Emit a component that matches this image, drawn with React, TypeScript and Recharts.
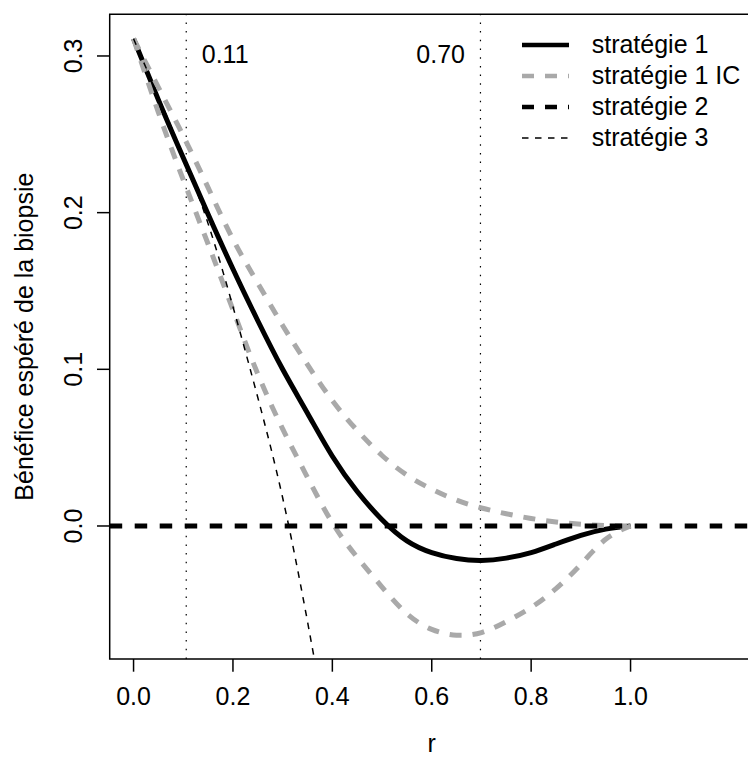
import { LineChart, Line, XAxis, YAxis, ReferenceLine, ReferenceArea, Legend, Label } from 'recharts';

const rValues = [0, 0.05, 0.1, 0.15, 0.2, 0.25, 0.3, 0.35, 0.4, 0.45, 0.5, 0.55, 0.6, 0.65, 0.7, 0.75, 0.8, 0.85, 0.9, 0.95, 1.0];
const strategy1 = [0.311, 0.272, 0.235, 0.199, 0.164, 0.131, 0.1, 0.072, 0.0445, 0.022, 0.004, -0.0095, -0.017, -0.0208, -0.022, -0.0205, -0.017, -0.0115, -0.006, -0.002, 0];
const strategy1Upper = [0.311, 0.28, 0.249, 0.216, 0.183, 0.155, 0.128, 0.103, 0.08, 0.061, 0.045, 0.0325, 0.0235, 0.0165, 0.0115, 0.0078, 0.0048, 0.0026, 0.0011, 0.0003, 0];
const strategy1Lower = [0.311, 0.264, 0.221, 0.18, 0.138, 0.097, 0.062, 0.031, 0.002, -0.02, -0.039, -0.056, -0.066, -0.0697, -0.068, -0.061, -0.052, -0.04, -0.0245, -0.0085, 0];
const strategy3 = [0.311, 0.274, 0.236, 0.193, 0.14, 0.082, 0.018, -0.061, -0.15, null, null, null, null, null, null, null, null, null, null, null, null];
const strategy2Level = 0;

const thresholds = [0.106, 0.698];
const thresholdLabels = ['0.11', '0.70'];
const xTicks = [0, 0.2, 0.4, 0.6, 0.8, 1.0];
const yTicks = [0, 0.1, 0.2, 0.3];
const seriesNames = ['stratégie 1', 'stratégie 1 IC', 'stratégie 2', 'stratégie 3'];

const data = rValues.map((r, i) => ({
  r,
  s1: strategy1[i],
  hi: strategy1Upper[i],
  lo: strategy1Lower[i],
  s3: strategy3[i],
}));

const FONT = '"Liberation Sans", Arial, Helvetica, sans-serif';
const X_DOMAIN = [-0.048, 1.248];
const Y_DOMAIN = [-0.0849, 0.3266];
const GREY = '#a9a9a9';

// line look for each legend entry (same order as seriesNames)
const legendLook = [
  { stroke: '#000', width: 4.5, dash: undefined },
  { stroke: GREY, width: 4.5, dash: '12 11' },
  { stroke: '#000', width: 4.5, dash: '12 11' },
  { stroke: '#000', width: 1.5, dash: '6.5 6.5' },
];

function YTick(props: any) {
  const { x, y, payload } = props;
  return (
    <text x={x} y={y} transform={`rotate(-90 ${x} ${y})`} textAnchor="middle" fontSize={25} fontFamily={FONT} fill="#000">
      {payload.value.toFixed(1)}
    </text>
  );
}

function LegendBox() {
  return (
    <div style={{ fontFamily: FONT, fontSize: 25, color: '#000' }}>
      {seriesNames.map((name, i) => (
        <div key={name} style={{ display: 'flex', alignItems: 'center', height: 31 }}>
          <svg width={47} height={10} style={{ marginRight: 23 }}>
            <line x1={0} y1={5} x2={47} y2={5} stroke={legendLook[i].stroke} strokeWidth={legendLook[i].width} strokeDasharray={legendLook[i].dash} />
          </svg>
          <span style={{ whiteSpace: 'nowrap', lineHeight: '31px' }}>{name}</span>
        </div>
      ))}
    </div>
  );
}

export default function App() {
  return (
    <div style={{ position: 'absolute', left: 0, top: 0, width: 748, height: 757, overflow: 'hidden', background: '#fff' }}>
      <LineChart width={760} height={757} data={data} margin={{ top: 14.3, right: 6.2, bottom: 0, left: 0 }}>
        <XAxis
          dataKey="r"
          type="number"
          domain={X_DOMAIN}
          ticks={xTicks}
          interval={0}
          allowDataOverflow
          tickFormatter={(v: number) => v.toFixed(1)}
          axisLine={false}
          tickLine={{ stroke: '#000', strokeWidth: 1.5 }}
          tickSize={12.7}
          tickMargin={15.6}
          height={98}
          tick={{ fill: '#000', fontSize: 25, fontFamily: FONT }}
        >
          <Label
            content={(p: any) => (
              <text x={p.viewBox.x + p.viewBox.width / 2} y={752} textAnchor="middle" fontSize={25} fontFamily={FONT} fill="#000">
                r
              </text>
            )}
          />
        </XAxis>
        <YAxis
          type="number"
          domain={Y_DOMAIN}
          ticks={yTicks}
          interval={0}
          allowDataOverflow
          width={109.7}
          axisLine={false}
          tickLine={{ stroke: '#000', strokeWidth: 1.5 }}
          tickSize={12.7}
          tickMargin={15}
          tick={<YTick />}
        >
          <Label
            content={(p: any) => (
              <text
                x={33}
                y={p.viewBox.y + p.viewBox.height / 2}
                transform={`rotate(-90 33 ${p.viewBox.y + p.viewBox.height / 2})`}
                textAnchor="middle"
                fontSize={25}
                fontFamily={FONT}
                fill="#000"
              >
                Bénéfice espéré de la biopsie
              </text>
            )}
          />
        </YAxis>

        <ReferenceArea x1={X_DOMAIN[0]} x2={X_DOMAIN[1]} y1={Y_DOMAIN[0]} y2={Y_DOMAIN[1]} fill="none" stroke="#000" strokeWidth={1.5} fillOpacity={0} />

        {thresholds.map((t, i) => (
          <ReferenceLine
            key={t}
            x={t}
            stroke="#000"
            strokeWidth={1.2}
            strokeDasharray="1.5 7.2"
            label={(p: any) => (
              <text
                x={i === 0 ? p.viewBox.x + 15.5 : p.viewBox.x - 15.5}
                y={63}
                textAnchor={i === 0 ? 'start' : 'end'}
                fontSize={25}
                fontFamily={FONT}
                fill="#000"
              >
                {thresholdLabels[i]}
              </text>
            )}
          />
        ))}

        <Line type="natural" dataKey="s1" stroke="#000" strokeWidth={5} dot={false} isAnimationActive={false} />
        <Line type="natural" dataKey="hi" stroke={GREY} strokeWidth={5} strokeDasharray="12 11" dot={false} isAnimationActive={false} />
        <Line type="natural" dataKey="lo" stroke={GREY} strokeWidth={5} strokeDasharray="12 11" dot={false} isAnimationActive={false} />
        <ReferenceLine y={strategy2Level} stroke="#000" strokeWidth={5} strokeDasharray="12.5 12.5" />
        <Line type="natural" dataKey="s3" stroke="#000" strokeWidth={1.5} strokeDasharray="6.5 6.5" dot={false} isAnimationActive={false} />

        <Legend
          layout="vertical"
          align="center"
          verticalAlign="middle"
          content={() => <LegendBox />}
          wrapperStyle={{ left: 521.7, top: 29, width: 226 }}
        />
      </LineChart>
    </div>
  );
}
